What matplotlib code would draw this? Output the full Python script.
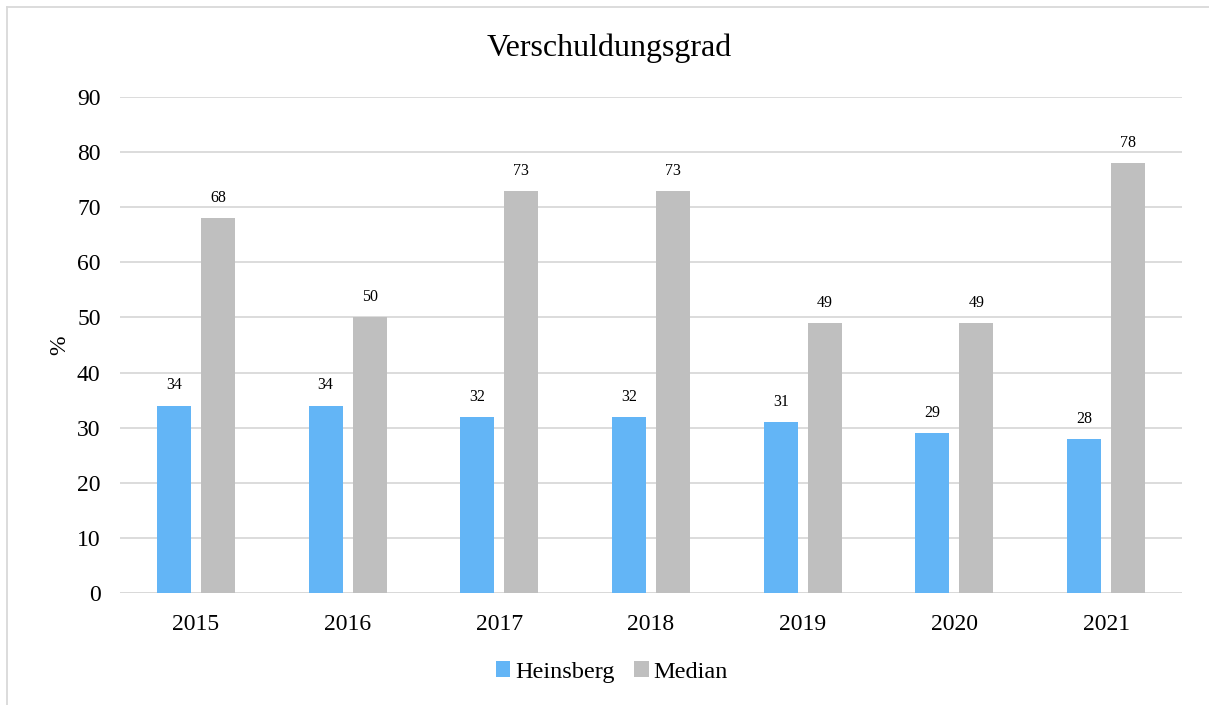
import numpy as np
import matplotlib.pyplot as plt
from matplotlib.lines import Line2D

years = ["2015", "2016", "2017", "2018", "2019", "2020", "2021"]
heinsberg = [34, 34, 32, 32, 31, 29, 28]
median = [68, 50, 73, 73, 49, 49, 78]

plt.rcParams['font.family'] = ['Liberation Serif', 'DejaVu Serif']

fig = plt.figure(figsize=(12.09, 7.05), dpi=100)
ax = fig.add_axes([0.0993, 0.1589, 0.8784, 0.7035])

x = np.arange(len(years))
w = 0.224
off = 0.145
b1 = ax.bar(x - off, heinsberg, w, color='#63b5f6', label='Heinsberg', zorder=2)
b2 = ax.bar(x + off, median, w, color='#bfbfbf', label='Median', zorder=2)

for bars, vals in ((b1, heinsberg), (b2, median)):
    for bar, v in zip(bars, vals):
        ax.text(bar.get_x() + bar.get_width() / 2, v + 2.2, str(v),
                ha='center', va='bottom', fontsize=11.5)

ax.set_xlim(-0.5, len(years) - 0.5)
ax.set_ylim(0, 90)
ax.set_yticks(range(0, 91, 10))
ax.set_xticks(x)
ax.set_xticklabels(years)
ax.tick_params(axis='both', length=0, labelsize=17)
ax.tick_params(axis='y', pad=14)
ax.tick_params(axis='x', pad=15)
ax.yaxis.grid(True, color='#d9d9d9', linewidth=1.3, zorder=0)
for s in ax.spines.values():
    s.set_visible(False)
ax.axhline(0, color='#d9d9d9', linewidth=1.3, zorder=1)

ax.set_ylabel('%', fontsize=17, labelpad=5)
fig.text(609 / 1209, 1 - 48 / 705, 'Verschuldungsgrad', fontsize=23,
         ha='center', va='center')

h, l = ax.get_legend_handles_labels()
fig.legend(h, l, loc='center', bbox_to_anchor=(612 / 1209, 1 - 672 / 705), ncol=2,
           frameon=False, fontsize=17.5, handlelength=0.6, handleheight=0.6,
           handletextpad=0.2, columnspacing=0.8)

# thin frame along the left and top edge
fig.add_artist(Line2D([7 / 1209, 7 / 1209], [0, 1 - 7 / 705],
                      transform=fig.transFigure, color='#d9d9d9', linewidth=1.3))
fig.add_artist(Line2D([7 / 1209, 1], [1 - 7 / 705, 1 - 7 / 705],
                      transform=fig.transFigure, color='#d9d9d9', linewidth=1.3))

fig.savefig('out.png', dpi=100)
